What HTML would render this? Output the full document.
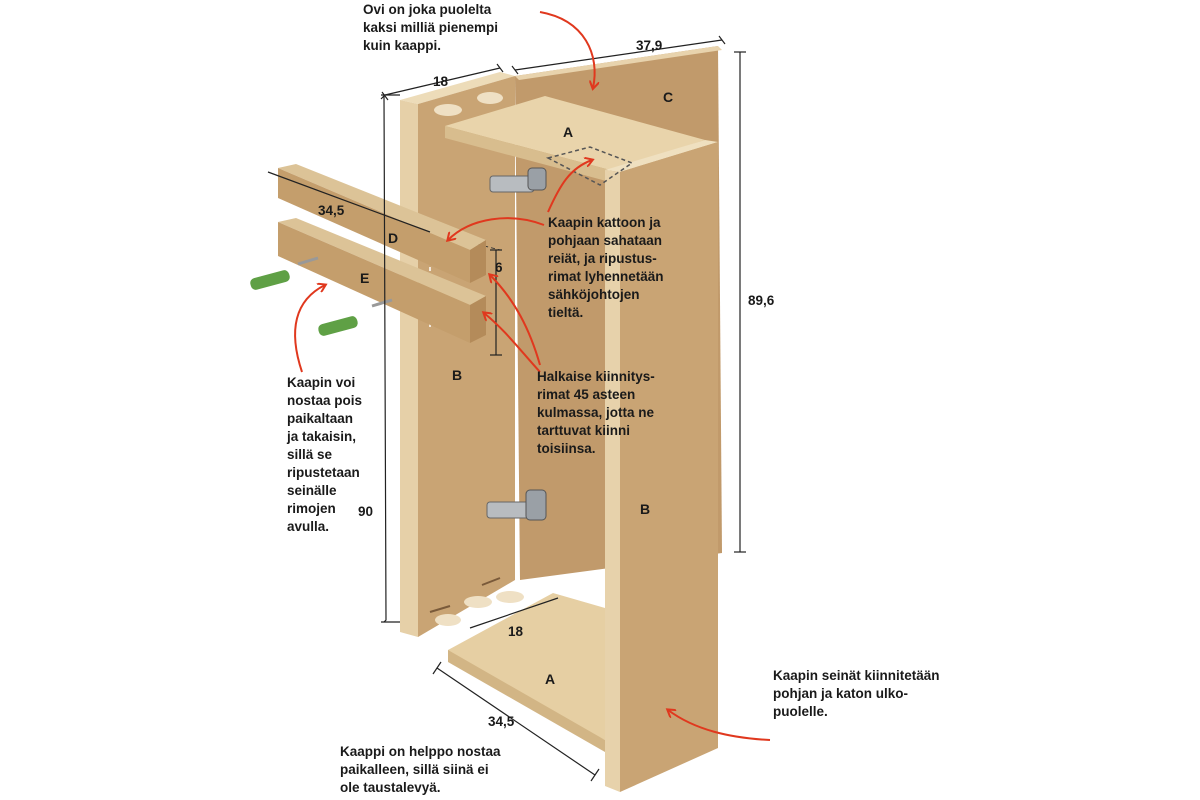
<!DOCTYPE html>
<html><head><meta charset="utf-8"><style>
html,body{margin:0;padding:0;background:#fff;width:1200px;height:800px;overflow:hidden}
svg{display:block}
text{font-family:"Liberation Sans",sans-serif;font-weight:bold;font-size:13.5px;fill:#1a1a1a}
.t{font-size:14px}
</style></head><body>
<svg width="1200" height="800" viewBox="0 0 1200 800" xmlns="http://www.w3.org/2000/svg">
<defs>
<marker id="ar" markerWidth="10" markerHeight="10" refX="7" refY="5" orient="auto" markerUnits="userSpaceOnUse"><path d="M0,0 L8,5 L0,10" fill="none" stroke="#e0381e" stroke-width="2"/></marker>
</defs>
<!-- back panel C -->
<polygon points="515,76 718,46 722,553 520,580" fill="#c19a6b"/>
<polygon points="515,76 718,46 722,50 519,80" fill="#e8d3ad"/>
<!-- left panel B -->
<polygon points="400,100 500,72 515,76 418,104" fill="#eddcb9"/>
<polygon points="400,100 418,104 418,637 400,632" fill="#e6d0a8"/>
<polygon points="418,104 515,76 515,580 418,637" fill="#c9a474"/>
<!-- biscuits -->
<ellipse cx="448" cy="110" rx="14" ry="6" fill="#efe0c4"/>
<ellipse cx="490" cy="98" rx="13" ry="6" fill="#efe0c4"/>
<ellipse cx="478" cy="602" rx="14" ry="6" fill="#efe0c4"/>
<ellipse cx="510" cy="597" rx="14" ry="6" fill="#efe0c4"/>
<ellipse cx="448" cy="620" rx="13" ry="6" fill="#efe0c4"/>
<line x1="482" y1="585" x2="500" y2="578" stroke="#7a5a3a" stroke-width="2"/>
<line x1="430" y1="612" x2="450" y2="606" stroke="#7a5a3a" stroke-width="2"/>
<!-- top A -->
<polygon points="445,126 545,96 705,140 610,170" fill="#e9d4ab"/>
<polygon points="445,126 610,170 610,182 445,138" fill="#d8bd8e"/>
<!-- right panel B -->
<polygon points="605,170 705,140 718,142 620,172" fill="#efe0c0"/>
<polygon points="605,170 620,172 620,792 605,786" fill="#e7d2ab"/>
<polygon points="620,172 718,142 718,748 620,792" fill="#c9a474"/>
<!-- bottom A -->
<polygon points="448,650 553,593 605,608 605,740 448,660" fill="#e6cfa3"/>
<polygon points="448,650 605,740 605,752 448,662" fill="#d2b585"/>
<!-- dashed -->
<polygon points="548,158 590,147 632,163 600,185" fill="none" stroke="#555" stroke-width="1.5" stroke-dasharray="4,3"/>
<polyline points="430,232 430,328" fill="none" stroke="#fff" stroke-width="1.5" stroke-dasharray="4,3"/>
<line x1="430" y1="232" x2="500" y2="250" stroke="#333" stroke-dasharray="4,3"/>
<!-- rails -->
<polygon points="278,168 296,164 486,240 470,250" fill="#dcc397"/>
<polygon points="278,168 470,250 470,283 278,198" fill="#c49e6c"/>
<polygon points="470,250 486,240 486,275 470,283" fill="#b48b5a"/>
<polygon points="278,222 296,218 486,296 470,305" fill="#dcc397"/>
<polygon points="278,222 470,305 470,343 278,256" fill="#c49e6c"/>
<polygon points="470,305 486,296 486,335 470,343" fill="#b48b5a"/>
<!-- hinges -->
<rect x="490" y="176" width="44" height="16" rx="3" fill="#b8bcc0" stroke="#666"/>
<rect x="528" y="168" width="18" height="22" rx="4" fill="#9aa0a6" stroke="#555"/>
<rect x="487" y="502" width="44" height="16" rx="3" fill="#b8bcc0" stroke="#666"/>
<rect x="526" y="490" width="20" height="30" rx="4" fill="#9aa0a6" stroke="#555"/>
<!-- plugs -->
<rect x="250" y="274" width="40" height="12" rx="5" fill="#5fa045" transform="rotate(-15 270 280)"/>
<rect x="318" y="320" width="40" height="12" rx="5" fill="#5fa045" transform="rotate(-15 338 326)"/>
<line x1="298" y1="264" x2="318" y2="258" stroke="#999" stroke-width="3"/>
<line x1="372" y1="306" x2="392" y2="300" stroke="#999" stroke-width="3"/>
<!-- dimension lines -->
<g stroke="#222" stroke-width="1.2" fill="none">
<polyline points="381,99 384,96 386,620 384,622"/>
<line x1="381" y1="95" x2="400" y2="95"/><line x1="381" y1="622" x2="400" y2="622"/>
<line x1="385" y1="95" x2="500" y2="68"/><line x1="382" y1="92" x2="388" y2="100"/><line x1="497" y1="64" x2="503" y2="72"/>
<line x1="515" y1="70" x2="722" y2="40"/><line x1="512" y1="66" x2="518" y2="74"/><line x1="719" y1="36" x2="725" y2="44"/>
<line x1="740" y1="52" x2="740" y2="552"/><line x1="734" y1="52" x2="746" y2="52"/><line x1="734" y1="552" x2="746" y2="552"/>
<line x1="268" y1="172" x2="430" y2="232"/>
<line x1="496" y1="250" x2="496" y2="355"/><line x1="490" y1="250" x2="502" y2="250"/><line x1="490" y1="355" x2="502" y2="355"/>
<line x1="437" y1="668" x2="595" y2="775"/><line x1="433" y1="674" x2="441" y2="662"/><line x1="591" y1="781" x2="599" y2="769"/>
<line x1="470" y1="628" x2="558" y2="598"/>
</g>
<!-- red arrows -->
<g stroke="#e0381e" stroke-width="2" fill="none" marker-end="url(#ar)">
<path d="M540,12 C585,20 600,55 593,88"/>
<path d="M548,212 C560,185 570,168 592,160"/>
<path d="M544,225 C510,212 470,218 448,240"/>
<path d="M540,365 C530,330 515,300 490,275"/>
<path d="M540,372 C520,350 505,330 484,313"/>
<path d="M302,372 C288,330 295,300 325,285"/>
<path d="M770,740 C730,738 695,730 668,710"/>
</g>
<!-- labels -->
<text x="563" y="137" class="t">A</text>
<text x="663" y="102" class="t">C</text>
<text x="388" y="243" class="t">D</text>
<text x="360" y="283" class="t">E</text>
<text x="452" y="380" class="t">B</text>
<text x="640" y="514" class="t">B</text>
<text x="545" y="684" class="t">A</text>
<text x="433" y="86">18</text>
<text x="636" y="50">37,9</text>
<text x="748" y="305">89,6</text>
<text x="318" y="215">34,5</text>
<text x="495" y="272">6</text>
<text x="358" y="516">90</text>
<text x="508" y="636">18</text>
<text x="488" y="726">34,5</text>
<g>
<text x="363" y="14">Ovi on joka puolelta</text>
<text x="363" y="32">kaksi milliä pienempi</text>
<text x="363" y="50">kuin kaappi.</text>
<text x="548" y="227">Kaapin kattoon ja</text>
<text x="548" y="245">pohjaan sahataan</text>
<text x="548" y="263">reiät, ja ripustus-</text>
<text x="548" y="281">rimat lyhennetään</text>
<text x="548" y="299">sähköjohtojen</text>
<text x="548" y="317">tieltä.</text>
<text x="537" y="381">Halkaise kiinnitys-</text>
<text x="537" y="399">rimat 45 asteen</text>
<text x="537" y="417">kulmassa, jotta ne</text>
<text x="537" y="435">tarttuvat kiinni</text>
<text x="537" y="453">toisiinsa.</text>
<text x="287" y="387">Kaapin voi</text>
<text x="287" y="405">nostaa pois</text>
<text x="287" y="423">paikaltaan</text>
<text x="287" y="441">ja takaisin,</text>
<text x="287" y="459">sillä se</text>
<text x="287" y="477">ripustetaan</text>
<text x="287" y="495">seinälle</text>
<text x="287" y="513">rimojen</text>
<text x="287" y="531">avulla.</text>
<text x="773" y="680">Kaapin seinät kiinnitetään</text>
<text x="773" y="698">pohjan ja katon ulko-</text>
<text x="773" y="716">puolelle.</text>
<text x="340" y="756">Kaappi on helppo nostaa</text>
<text x="340" y="774">paikalleen, sillä siinä ei</text>
<text x="340" y="792">ole taustalevyä.</text>
</g>
</svg>
</body></html>
